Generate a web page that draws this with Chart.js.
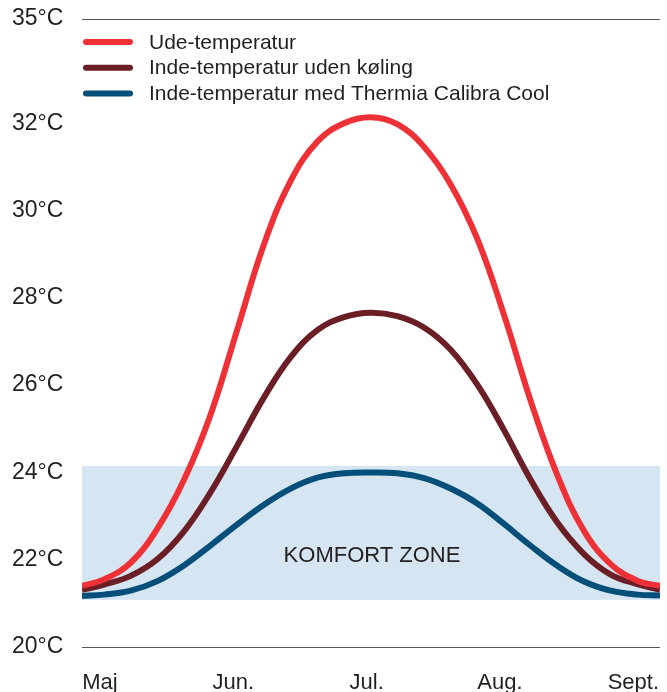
<!DOCTYPE html>
<html>
<head>
<meta charset="utf-8">
<script src="https://cdn.jsdelivr.net/npm/chart.js@4.4.1/dist/chart.umd.min.js"></script>
<style>
html,body{margin:0;padding:0;background:#fff;}
canvas{display:block;}
</style>
</head>
<body>
<canvas id="c" width="667" height="692"></canvas>
<script>
// ---- data ----
const months = ['Maj', 'Jun.', 'Jul.', 'Aug.', 'Sept.'];
const xPos = [-0.135, 0.03, 0.23, 0.43, 0.63, 0.83, 1.03, 1.23, 1.43, 1.63, 1.83, 2.03,
              2.23, 2.43, 2.63, 2.83, 3.03, 3.23, 3.43, 3.63, 3.83, 4.03, 4.2];
const udeTemp = [21.40, 21.55, 21.93, 22.71, 23.83, 25.33, 27.28, 29.23, 30.68, 31.58, 32.00, 32.14,
                 31.98, 31.46, 30.60, 29.35, 27.61, 25.64, 23.94, 22.66, 21.90, 21.52, 21.40];
const indeUdenKoeling = [21.31, 21.43, 21.63, 22.01, 22.65, 23.55, 24.62, 25.72, 26.64, 27.26, 27.56, 27.66,
                         27.58, 27.32, 26.81, 26.01, 24.97, 23.83, 22.85, 22.13, 21.66, 21.44, 21.31];
const indeMedCool = [21.17, 21.20, 21.29, 21.51, 21.87, 22.33, 22.81, 23.26, 23.63, 23.88, 23.98, 24.00,
                     23.98, 23.87, 23.63, 23.29, 22.82, 22.32, 21.86, 21.50, 21.29, 21.20, 21.18];
const seriesLabels = ['Ude-temperatur', 'Inde-temperatur uden køling', 'Inde-temperatur med Thermia Calibra Cool'];
const yTicks = [20, 22, 24, 26, 28, 30, 32];
const yTop = 34.39;
const yTopLabel = '35°C';
const comfortZone = [21.08, 24.15];
const zoneLabel = 'KOMFORT ZONE';
const zoneLabelPos = [2.04, 22.08];
const xRange = [-0.135, 4.2];

// ---- styles ----
const FONT = "'Liberation Sans', Arial, sans-serif";
const TEXT = '#231f20';
const colors = ['#ee3136', '#6c1e26', '#034f7a'];

const toPts = arr => xPos.map((x, i) => ({x: x, y: arr[i]}));

const zonePlugin = {
  id: 'zone',
  beforeDatasetsDraw(chart) {
    const {ctx, chartArea, scales} = chart;
    const yT = scales.y.getPixelForValue(comfortZone[1]);
    const yB = scales.y.getPixelForValue(comfortZone[0]);
    ctx.save();
    ctx.fillStyle = '#d5e5f2';
    ctx.fillRect(chartArea.left, yT, chartArea.right - chartArea.left, yB - yT);
    ctx.fillStyle = TEXT;
    ctx.font = "22px " + FONT;
    ctx.textAlign = 'center';
    ctx.textBaseline = 'middle';
    ctx.fillText(zoneLabel, scales.x.getPixelForValue(zoneLabelPos[0]), scales.y.getPixelForValue(zoneLabelPos[1]));
    ctx.restore();
  }
};

const legendPlugin = {
  id: 'legendLines',
  afterDatasetsDraw(chart) {
    const {ctx, chartArea} = chart;
    ctx.save();
    chart.data.datasets.forEach((ds, i) => {
      const y = chartArea.top + 23 + i * 25.7;
      ctx.strokeStyle = ds.borderColor;
      ctx.lineWidth = 6;
      ctx.lineCap = 'round';
      ctx.beginPath();
      ctx.moveTo(chartArea.left + 4, y);
      ctx.lineTo(chartArea.left + 48, y);
      ctx.stroke();
      ctx.fillStyle = TEXT;
      ctx.font = "21px " + FONT;
      ctx.textAlign = 'left';
      ctx.textBaseline = 'middle';
      ctx.fillText(ds.label, chartArea.left + 67, y + 1);
    });
    ctx.restore();
  }
};

new Chart(document.getElementById('c'), {
  type: 'line',
  data: {
    datasets: [udeTemp, indeUdenKoeling, indeMedCool].map((arr, i) => ({
      label: seriesLabels[i],
      data: toPts(arr),
      borderColor: colors[i],
      borderWidth: 6,
      pointRadius: 0,
      fill: false,
      tension: 0.4,
      borderCapStyle: 'butt'
    }))
  },
  options: {
    responsive: false,
    devicePixelRatio: 1,
    animation: false,
    layout: {padding: {left: 12, right: 7, top: 19, bottom: 0}},
    plugins: {legend: {display: false}, tooltip: {enabled: false}},
    scales: {
      x: {
        type: 'linear',
        min: xRange[0],
        max: xRange[1],
        afterBuildTicks: s => { s.ticks = months.map((m, i) => ({value: i})); },
        afterFit: s => { s.height = 45; s.paddingLeft = 0; s.paddingRight = 0; },
        ticks: {
          callback: (v, i) => months[i],
          font: {family: FONT, size: 22},
          color: TEXT,
          padding: 15,
          maxRotation: 0,
          autoSkip: false
        },
        grid: {display: false},
        border: {display: false}
      },
      y: {
        type: 'linear',
        min: 20,
        max: yTop,
        afterBuildTicks: s => { s.ticks = yTicks.concat([yTop]).map(v => ({value: v})); },
        afterFit: s => { s.width = 70; s.paddingTop = 0; s.paddingBottom = 0; },
        ticks: {
          callback: v => (v === yTop ? yTopLabel : v + '°C'),
          font: {family: FONT, size: 23},
          color: TEXT,
          crossAlign: 'far',
          padding: 0
        },
        grid: {
          drawTicks: false,
          lineWidth: 1,
          color: c => (c.tick && (c.tick.value === 20 || c.tick.value === yTop)) ? '#555555' : 'rgba(0,0,0,0)'
        },
        border: {display: false}
      }
    }
  },
  plugins: [zonePlugin, legendPlugin]
});
</script>
</body>
</html>
